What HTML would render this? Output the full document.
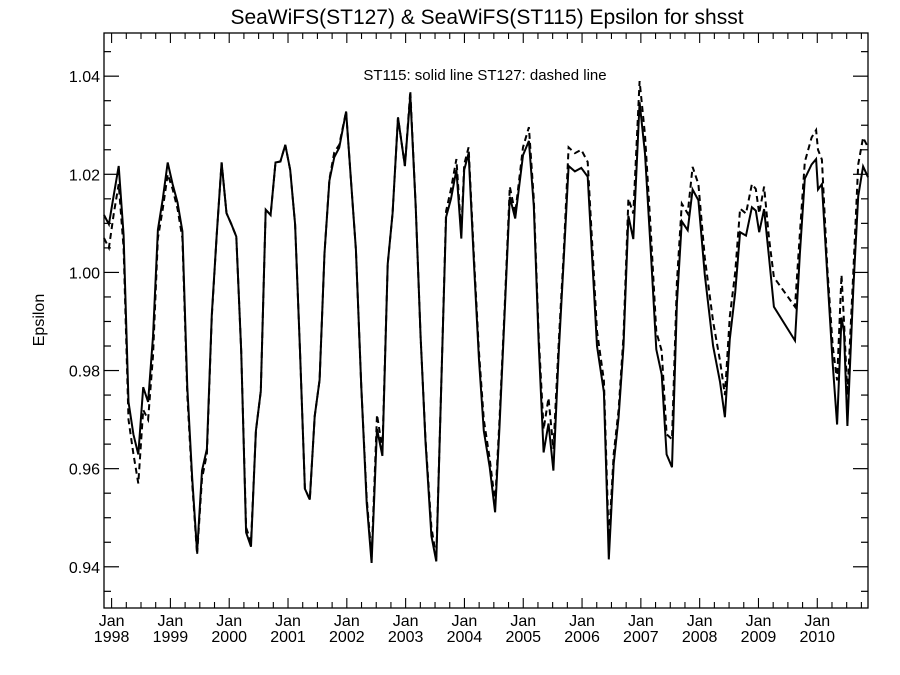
<!DOCTYPE html>
<html><head><meta charset="utf-8"><style>
body{margin:0;background:#fff;}
svg{display:block;font-family:"Liberation Sans",sans-serif;}
</style></head><body>
<svg id="chart" width="900" height="675" xmlns="http://www.w3.org/2000/svg">
<text x="487" y="24" font-size="21" text-anchor="middle">SeaWiFS(ST127) &amp; SeaWiFS(ST115)  Epsilon for shsst</text>
<text x="485" y="80" font-size="15" text-anchor="middle">ST115: solid line   ST127: dashed line</text>
<text x="44" y="320" font-size="16" text-anchor="middle" transform="rotate(-90 44 320)">Epsilon</text>
<g id="axes"></g>
<g id="series"></g>
</svg>
<script>
const months = [0,1,2,3,4,5,6,7,8,9,10,11,12,13,14,15,16,17,18,19,20,21,22,23,24,25,26,27,28,29,30,31,32,33,34,35,36,37,38,39,40,41,42,43,44,45,46,47,48,49.4,50.4,51.4,52.5,53.6,54.6,55.7,56.8,57.9,58.9,60.0,61.4,62.5,63.6,64.6,65.6,66.8,67.8,68.8,69.8,70.8,71.9,72.9,73.5,74.4,75.5,76.5,77.5,78.7,79.8,80.7,81.8,82.8,83.9,85.5,86.7,87.7,88.7,89.7,90.7,91.7,92.8,93.8,94.8,96.1,97.4,98.7,100.6,102.0,103.0,104.0,105.0,106.0,107.0,108.0,109.3,110.4,111.6,112.7,113.8,114.8,115.9,116.9,117.9,119.1,120.1,121.3,122.6,124.3,125.7,126.7,127.7,128.8,129.8,131.0,132.2,133.0,133.7,134.7,135.7,136.7,141.0,142.0,143.0,144.4,145.3,145.7,146.5,147.6,148.7,149.6,150.5,151.0,151.7,152.9,153.9,154.9,155.9];
const st115 = [1.0117,1.0098,1.0158,1.0217,1.0076,0.9736,0.9670,0.9629,0.9766,0.9736,0.9869,1.0087,1.0150,1.0224,1.0180,1.0143,1.0084,0.9766,0.9581,0.9430,0.9596,0.9640,0.9914,1.0076,1.0224,1.0121,1.0098,1.0073,0.9840,0.9470,0.9441,0.9677,0.9758,1.0128,1.0117,1.0224,1.0226,1.0260,1.0209,1.0098,0.9840,0.9559,0.9537,0.9707,0.9781,1.0039,1.0187,1.0235,1.0254,1.0328,1.0187,1.0047,0.9766,0.9530,0.9408,0.9681,0.9626,1.0017,1.0121,1.0316,1.0217,1.0361,1.0135,0.9869,0.9655,0.9463,0.9411,0.9766,1.0113,1.0150,1.0209,1.0069,1.0209,1.0243,1.0017,0.9825,0.9677,0.9603,0.9511,0.9685,0.9928,1.0154,1.0110,1.0239,1.0268,1.0135,0.9855,0.9633,0.9692,0.9596,0.9840,1.0025,1.0217,1.0206,1.0213,1.0195,0.9850,0.9756,0.9415,0.9610,0.9705,0.9850,1.0115,1.0068,1.0347,1.0242,1.0039,0.9843,0.9792,0.9629,0.9603,0.9937,1.0104,1.0086,1.0169,1.0147,0.9995,0.9850,0.9777,0.9705,0.9864,0.9959,1.0082,1.0075,1.0133,1.0126,1.0082,1.0129,1.0031,0.9930,0.9861,1.0039,1.0191,1.0220,1.0231,1.0169,1.0180,0.9995,0.9814,0.9690,0.9908,0.9879,0.9687,0.9966,1.0155,1.0216,1.0194];
const st127 = [1.0070,1.0050,1.0120,1.0180,1.0050,0.9700,0.9630,0.9570,0.9720,0.9700,0.9830,1.0070,1.0130,1.0200,1.0170,1.0130,1.0070,0.9750,0.9570,0.9425,0.9580,0.9630,0.9910,1.0076,1.0224,1.0121,1.0098,1.0073,0.9840,0.9480,0.9450,0.9677,0.9758,1.0128,1.0117,1.0224,1.0226,1.0260,1.0209,1.0098,0.9840,0.9559,0.9537,0.9707,0.9781,1.0039,1.0190,1.0245,1.0260,1.0328,1.0187,1.0047,0.9766,0.9540,0.9420,0.9710,0.9640,1.0017,1.0121,1.0316,1.0217,1.0370,1.0135,0.9869,0.9660,0.9480,0.9420,0.9766,1.0125,1.0170,1.0231,1.0080,1.0220,1.0255,1.0030,0.9840,0.9700,0.9620,0.9530,0.9700,0.9940,1.0175,1.0120,1.0255,1.0296,1.0150,0.9870,0.9680,0.9744,0.9640,0.9860,1.0040,1.0255,1.0243,1.0250,1.0225,0.9880,0.9780,0.9450,0.9630,0.9720,0.9870,1.0150,1.0120,1.0390,1.0280,1.0080,0.9879,0.9840,0.9670,0.9660,0.9980,1.0140,1.0120,1.0215,1.0180,1.0030,0.9900,0.9820,0.9750,0.9910,1.0000,1.0130,1.0120,1.0180,1.0170,1.0120,1.0175,1.0070,0.9990,0.9930,1.0080,1.0225,1.0275,1.0290,1.0250,1.0230,1.0010,0.9850,0.9780,0.9995,0.9900,0.9750,1.0000,1.0220,1.0275,1.0255];
const yTicks = [0.94,0.96,0.98,1.00,1.02,1.04];
const yTickLabels = ["0.94","0.96","0.98","1.00","1.02","1.04"];
const years = ["1998","1999","2000","2001","2002","2003","2004","2005","2006","2007","2008","2009","2010"];

const L=104,R=868,T=33,B=608;
const xMin=0,xMax=155.9,yMin=0.9316,yMax=1.0488;
const janOffset=1.55;
const xs=m=>L+(m-xMin)/(xMax-xMin)*(R-L);
const ys=v=>B-(v-yMin)/(yMax-yMin)*(B-T);
const NS="http://www.w3.org/2000/svg";
const axes=document.getElementById('axes'), ser=document.getElementById('series');
function mk(tag,parent,attrs){const e=document.createElementNS(NS,tag);for(const k in attrs)e.setAttribute(k,attrs[k]);parent.appendChild(e);return e;}

const frame=mk('rect',axes,{x:L,y:T,width:R-L,height:B-T,fill:'none',stroke:'#000','stroke-width':1.3});



// y ticks (major + minor every 0.005)
for(let v=0.935;v<=1.0451;v+=0.005){
  const y=ys(v);const major=Math.abs(Math.round(v*100)/100-v)<1e-6 && Math.round(v*100)%2===0;
  const len=major?15:7;
  const t1=mk('line',axes,{x1:L,x2:L+len,y1:y,y2:y,stroke:'#000','stroke-width':1.2});
  
  
  const t2=mk('line',axes,{x1:R,x2:R-len,y1:y,y2:y,stroke:'#000','stroke-width':1.2});
  
  
}
yTicks.forEach((v,i)=>{
  const t=mk('text',axes,{x:L-4,y:ys(v)+6,'font-size':16,'text-anchor':'end'});
  t.textContent=yTickLabels[i];
  
  
});
// x ticks every 3 months
for(let m=janOffset-3;m<=xMax;m+=3){
  if(m<xMin)continue;
  const x=xs(m);const major=Math.abs(((m-janOffset)%12+12)%12)<0.01;
  const len=major?10:6;
  const b=mk('line',axes,{x1:x,x2:x,y1:B,y2:B-len,stroke:'#000','stroke-width':1.1});
  
  
  const tp=mk('line',axes,{x1:x,x2:x,y1:T,y2:T+len,stroke:'#000','stroke-width':1.1});
  
  
}
years.forEach((yr,i)=>{
  const x=xs(janOffset+12*i);
  const a=mk('text',axes,{x:x,y:626,'font-size':16,'text-anchor':'middle'});
  a.textContent='Jan';
  
  
  const b=mk('text',axes,{x:x,y:642,'font-size':16,'text-anchor':'middle'});
  b.textContent=yr;
  
  
});
function path(vals){return months.map((m,i)=>(i?'L':'M')+xs(m).toFixed(1)+','+ys(vals[i]).toFixed(1)).join(' ');}
const dl=mk('path',ser,{d:path(st127),fill:'none',stroke:'#000','stroke-width':2,'stroke-dasharray':'6,4'});


const sl=mk('path',ser,{d:path(st115),fill:'none',stroke:'#000','stroke-width':2});


</script>
</body></html>
